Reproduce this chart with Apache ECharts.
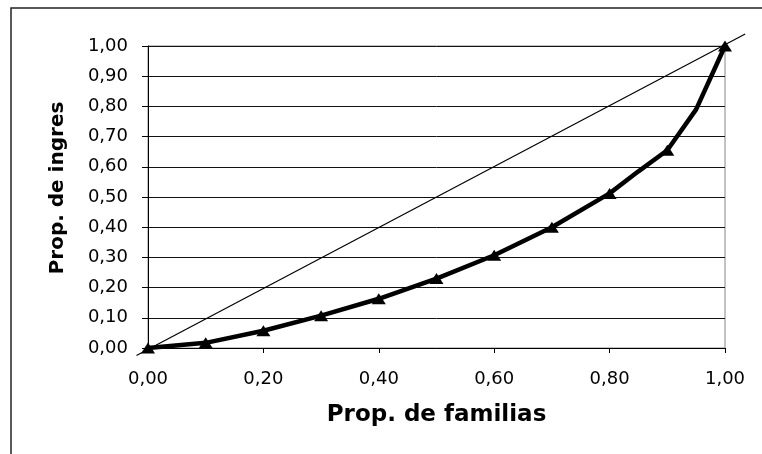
<!DOCTYPE html>
<html>
<head>
<meta charset="utf-8">
<script src="https://cdn.jsdelivr.net/npm/echarts@6/dist/echarts.min.js"></script>
<style>html,body{margin:0;padding:0;background:#fff}#c{width:762px;height:454px}</style>
</head>
<body>
<div id="c"></div>
<script>
// Proportion of families (x) and proportion of income (y) - Lorenz curve
var famProp = [0, 0.10, 0.20, 0.30, 0.40, 0.50, 0.60, 0.70, 0.80, 0.85, 0.90, 0.95, 1.00];
var ingProp = [0, 0.017, 0.057, 0.107, 0.163, 0.230, 0.307, 0.400, 0.512, 0.585, 0.655, 0.790, 1.00];
// Equality line endpoints (extends slightly past the plot area)
var eqX = [-0.02, 1.035];
var eqY = [-0.025, 1.04];
var xTicks = [0, 0.2, 0.4, 0.6, 0.8, 1.0];
var yTicks = [0, 0.1, 0.2, 0.3, 0.4, 0.5, 0.6, 0.7, 0.8, 0.9, 1.0];
var xTitle = 'Prop. de familias';
var yTitle = 'Prop. de ingres';

function fmt(v){ return v.toFixed(2).replace('.', ','); }

var lorenzData = famProp.map(function(x, i){
  var marked = Math.abs(x * 10 - Math.round(x * 10)) < 1e-9;
  return { value: [x, ingProp[i]], symbol: marked ? 'triangle' : 'none' };
});

var chart = echarts.init(document.getElementById('c'), null, {renderer: 'canvas'});
chart.setOption({
  animation: false,
  backgroundColor: '#fff',
  grid: {left: 148, top: 46, right: 37, bottom: 106, show: true, borderColor: '#888', borderWidth: 1, backgroundColor: 'transparent'},
  xAxis: {
    type: 'value', min: xTicks[0], max: xTicks[xTicks.length - 1], interval: xTicks[1] - xTicks[0],
    name: xTitle, nameLocation: 'middle', nameGap: 56,
    nameTextStyle: {fontFamily: 'DejaVu Sans', fontWeight: 'bold', fontSize: 23, color: '#000'},
    axisLine: {show: true, onZero: false, lineStyle: {color: '#000', width: 1}},
    axisTick: {show: true, inside: false, length: 5, lineStyle: {color: '#000'}},
    axisLabel: {fontFamily: 'DejaVu Sans', fontSize: 18, color: '#000', margin: 22,
      formatter: function(v){ return fmt(v); }},
    splitLine: {show: false}
  },
  yAxis: {
    type: 'value', min: yTicks[0], max: yTicks[yTicks.length - 1], interval: yTicks[1] - yTicks[0],
    name: yTitle, nameLocation: 'middle', nameGap: 80,
    nameTextStyle: {fontFamily: 'DejaVu Sans', fontWeight: 'bold', fontSize: 20, color: '#000', padding: [0, 0, 0, 18]},
    axisLine: {show: true, onZero: false, lineStyle: {color: '#000', width: 1}},
    axisTick: {show: true, inside: false, length: 6, lineStyle: {color: '#000'}},
    axisLabel: {fontFamily: 'DejaVu Sans', fontSize: 18, color: '#000', margin: 20,
      formatter: function(v){ return fmt(v); }},
    splitLine: {show: true, lineStyle: {color: '#111', width: 1}}
  },
  series: [{
    type: 'line', data: lorenzData, clip: false, symbolSize: [14, 11],
    itemStyle: {color: '#000'},
    lineStyle: {color: '#000', width: 4.5}, z: 4
  }]
});

// Equality line and chart frame, positioned through the chart's own scales
var p0 = chart.convertToPixel({gridIndex: 0}, [eqX[0], eqY[0]]);
var p1 = chart.convertToPixel({gridIndex: 0}, [eqX[1], eqY[1]]);
chart.setOption({
  graphic: [{
    type: 'rect', shape: {x: 11, y: 8, width: 900, height: 600},
    style: {fill: 'none', stroke: '#222', lineWidth: 1.5}, silent: true, z: 0
  }, {
    type: 'line', shape: {x1: p0[0], y1: p0[1], x2: p1[0], y2: p1[1]},
    style: {stroke: '#000', lineWidth: 1.2}, silent: true, z: 3
  }]
});
</script>
</body>
</html>
